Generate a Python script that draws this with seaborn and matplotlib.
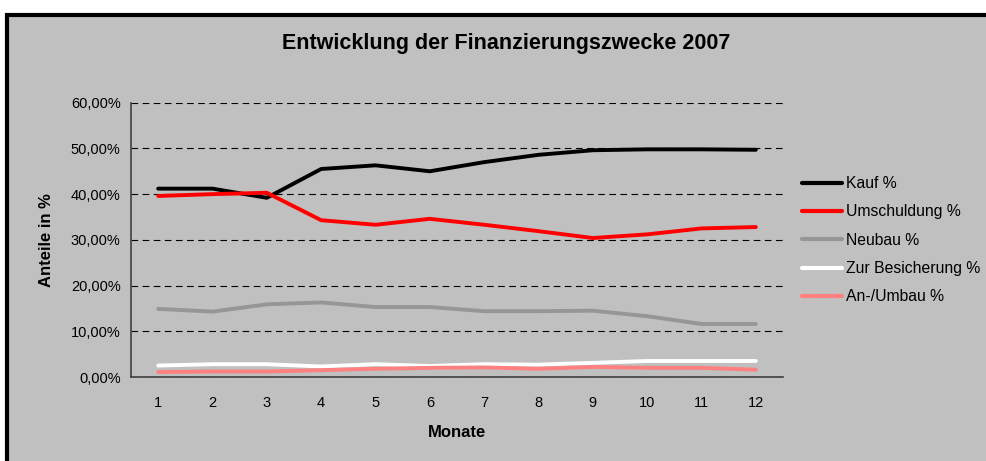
import numpy as np
import pandas as pd
import matplotlib
matplotlib.use("Agg")
import matplotlib.pyplot as plt
import seaborn as sns
from matplotlib.patches import Rectangle
from matplotlib.ticker import FuncFormatter, FixedLocator

# --- data (shares in %) ---
months = list(range(1, 13))
kauf = [41.2, 41.2, 39.2, 45.5, 46.3, 45.0, 47.0, 48.6, 49.6, 49.8, 49.8, 49.7]
umschuldung = [39.6, 40.0, 40.3, 34.3, 33.3, 34.6, 33.3, 31.9, 30.4, 31.2, 32.5, 32.8]
neubau = [14.9, 14.3, 15.9, 16.3, 15.3, 15.3, 14.4, 14.4, 14.5, 13.3, 11.6, 11.6]
besicherung = [2.5, 2.8, 2.8, 2.3, 2.8, 2.4, 2.8, 2.7, 3.1, 3.5, 3.5, 3.5]
umbau = [1.1, 1.2, 1.2, 1.5, 1.8, 2.0, 2.1, 1.8, 2.2, 2.0, 2.0, 1.6]

series_names = ["Kauf %", "Umschuldung %", "Neubau %", "Zur Besicherung %", "An-/Umbau %"]
series_values = [kauf, umschuldung, neubau, besicherung, umbau]
colors = ["#000000", "#ff0000", "#969696", "#ffffff", "#ff8080"]

df = pd.concat(
    [pd.DataFrame({"Monat": months, "Anteil": np.array(v) / 100, "Zweck": n})
     for n, v in zip(series_names, series_values)],
    ignore_index=True,
)

sns.set_style("white")
plt.rcParams["font.family"] = ["Liberation Sans", "DejaVu Sans"]
plt.rcParams["text.color"] = "black"
plt.rcParams["axes.labelcolor"] = "black"
plt.rcParams["xtick.color"] = "black"
plt.rcParams["ytick.color"] = "black"

fig = plt.figure(figsize=(9.86, 4.61), dpi=100)
fig.patch.set_facecolor("white")

# gray chart area with black frame (extends past right/bottom edge)
frame = Rectangle((6.5 / 986, -0.05), 1.1, (461 - 14.5) / 461 + 0.05,
                  transform=fig.transFigure, facecolor="#c0c0c0",
                  edgecolor="black", linewidth=3, zorder=-10)
fig.patches.append(frame)

ax = fig.add_axes([131 / 986, 1 - 377 / 461, (783 - 131) / 986, (377 - 102.7) / 461])
ax.set_facecolor("#c0c0c0")
ax.set_zorder(1)

sns.lineplot(data=df, x="Monat", y="Anteil", hue="Zweck", palette=colors,
             linewidth=2.8, ax=ax, legend=True, solid_capstyle="round")

ax.set_xlim(0.5, 12.5)
ax.set_ylim(0, 0.6)
ax.set_yticks(np.arange(0, 0.61, 0.1))
ax.yaxis.set_major_formatter(FuncFormatter(lambda v, p: f"{v * 100:.2f}%".replace(".", ",")))
ax.yaxis.grid(True, color="black", linestyle=(0, (6, 4)), linewidth=0.8)
ax.set_axisbelow(True)

ax.xaxis.set_major_locator(FixedLocator(np.arange(0.5, 12.6, 1)))
ax.xaxis.set_minor_locator(FixedLocator(months))
ax.xaxis.set_major_formatter(FuncFormatter(lambda v, p: ""))
ax.xaxis.set_minor_formatter(FuncFormatter(lambda v, p: f"{int(round(v))}"))
ax.tick_params(axis="x", which="major", direction="out", length=5, color="#404040", width=1)
ax.tick_params(axis="x", which="minor", length=0, pad=14, labelsize=10.5)
ax.tick_params(axis="y", direction="inout", length=9, color="#404040", width=1,
               labelsize=10.5, pad=3)

for side in ["top", "right"]:
    ax.spines[side].set_visible(False)
for side in ["left", "bottom"]:
    ax.spines[side].set_color("#404040")
    ax.spines[side].set_linewidth(1.2)

ax.set_xlabel("Monate", fontsize=12, fontweight="bold")
ax.set_ylabel("Anteile in %", fontsize=12, fontweight="bold")
ax.xaxis.set_label_coords(0.5, -(425 - 377) / 274)
ax.yaxis.set_label_coords(-(131 - 54) / 652, 0.5)

fig.text(506 / 986, 1 - 44 / 461, "Entwicklung der Finanzierungszwecke 2007",
         ha="center", va="center", fontsize=15.5, fontweight="bold")

leg = ax.legend(loc="upper left", bbox_to_anchor=(802 / 986, 1 - 176 / 461),
                bbox_transform=fig.transFigure, frameon=False, fontsize=11.3,
                handlelength=2.55, handletextpad=0.25, labelspacing=0.85,
                borderaxespad=0, borderpad=0)
for line in leg.get_lines():
    line.set_linewidth(3)

fig.savefig("out.png", dpi=100, facecolor=fig.get_facecolor())
